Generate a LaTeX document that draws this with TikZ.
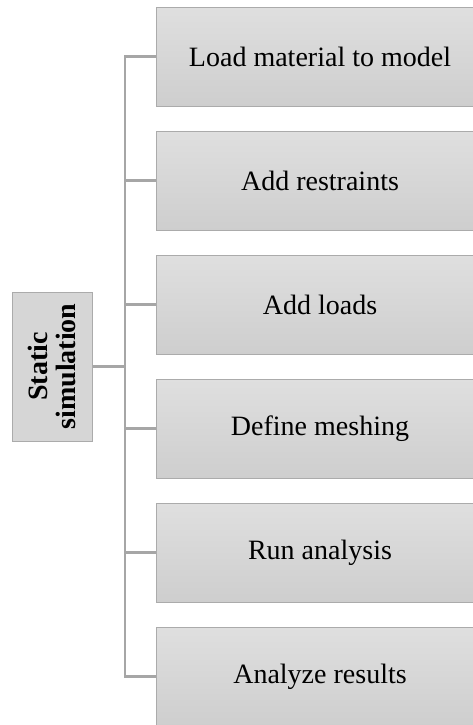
\documentclass[tikz,border=0pt]{standalone}
\usepackage{fontspec}
\setmainfont{Liberation Serif}
\usetikzlibrary{shadows}
\definecolor{boxtop}{HTML}{DFDFDF}
\definecolor{boxbot}{HTML}{CECECE}
\definecolor{boxborder}{HTML}{ABABAB}
\definecolor{linegray}{HTML}{A6A6A6}
\definecolor{rootfill}{HTML}{D6D6D6}
\begin{document}
\begin{tikzpicture}[x=0.75pt,y=-0.75pt,
  stepbox/.style={draw=boxborder, line width=0.75pt, top color=boxtop, bottom color=boxbot,
    minimum width=246pt, minimum height=74.25pt, inner sep=0pt,
    drop shadow={opacity=0.25, shadow xshift=0.6pt, shadow yshift=-0.8pt},
    font=\fontsize{21}{24}\selectfont},
  rootbox/.style={draw=boxborder, line width=0.75pt, fill=rootfill, rotate=90,
    minimum width=111.75pt, minimum height=60pt, inner sep=0pt, align=center,
    drop shadow={opacity=0.25, shadow xshift=0.6pt, shadow yshift=-0.8pt},
    font=\bfseries\fontsize{21}{21}\selectfont},
  link/.style={draw=linegray, line width=1.7pt}]
\useasboundingbox (0,0) rectangle (473,725);
\clip (0,0) rectangle (473,725);
\coordinate (tj) at (125,0);
\node[stepbox] (b1) at (320,56.5) {Load material to model};
\node[stepbox] (b2) at (320,180.5) {Add restraints};
\node[stepbox] (b3) at (320,304.5) {Add loads};
\node[stepbox] (b4) at (320,428.5) {Define meshing};
\node[stepbox] (b5) at (320,552.5) {Run analysis};
\node[stepbox] (b6) at (320,676.5) {Analyze results};
\node[rootbox] (root) at (52,366.5) {Static\\simulation};
\draw[link] (b1.west) -- (b1.west -| tj) -- (b6.west -| tj) -- (b6.west);
\draw[link] (b2.west -| tj) -- (b2.west);
\draw[link] (b3.west -| tj) -- (b3.west);
\draw[link] (b4.west -| tj) -- (b4.west);
\draw[link] (b5.west -| tj) -- (b5.west);
\draw[link] (root.south) -- (root.south -| tj);
\end{tikzpicture}
\end{document}
